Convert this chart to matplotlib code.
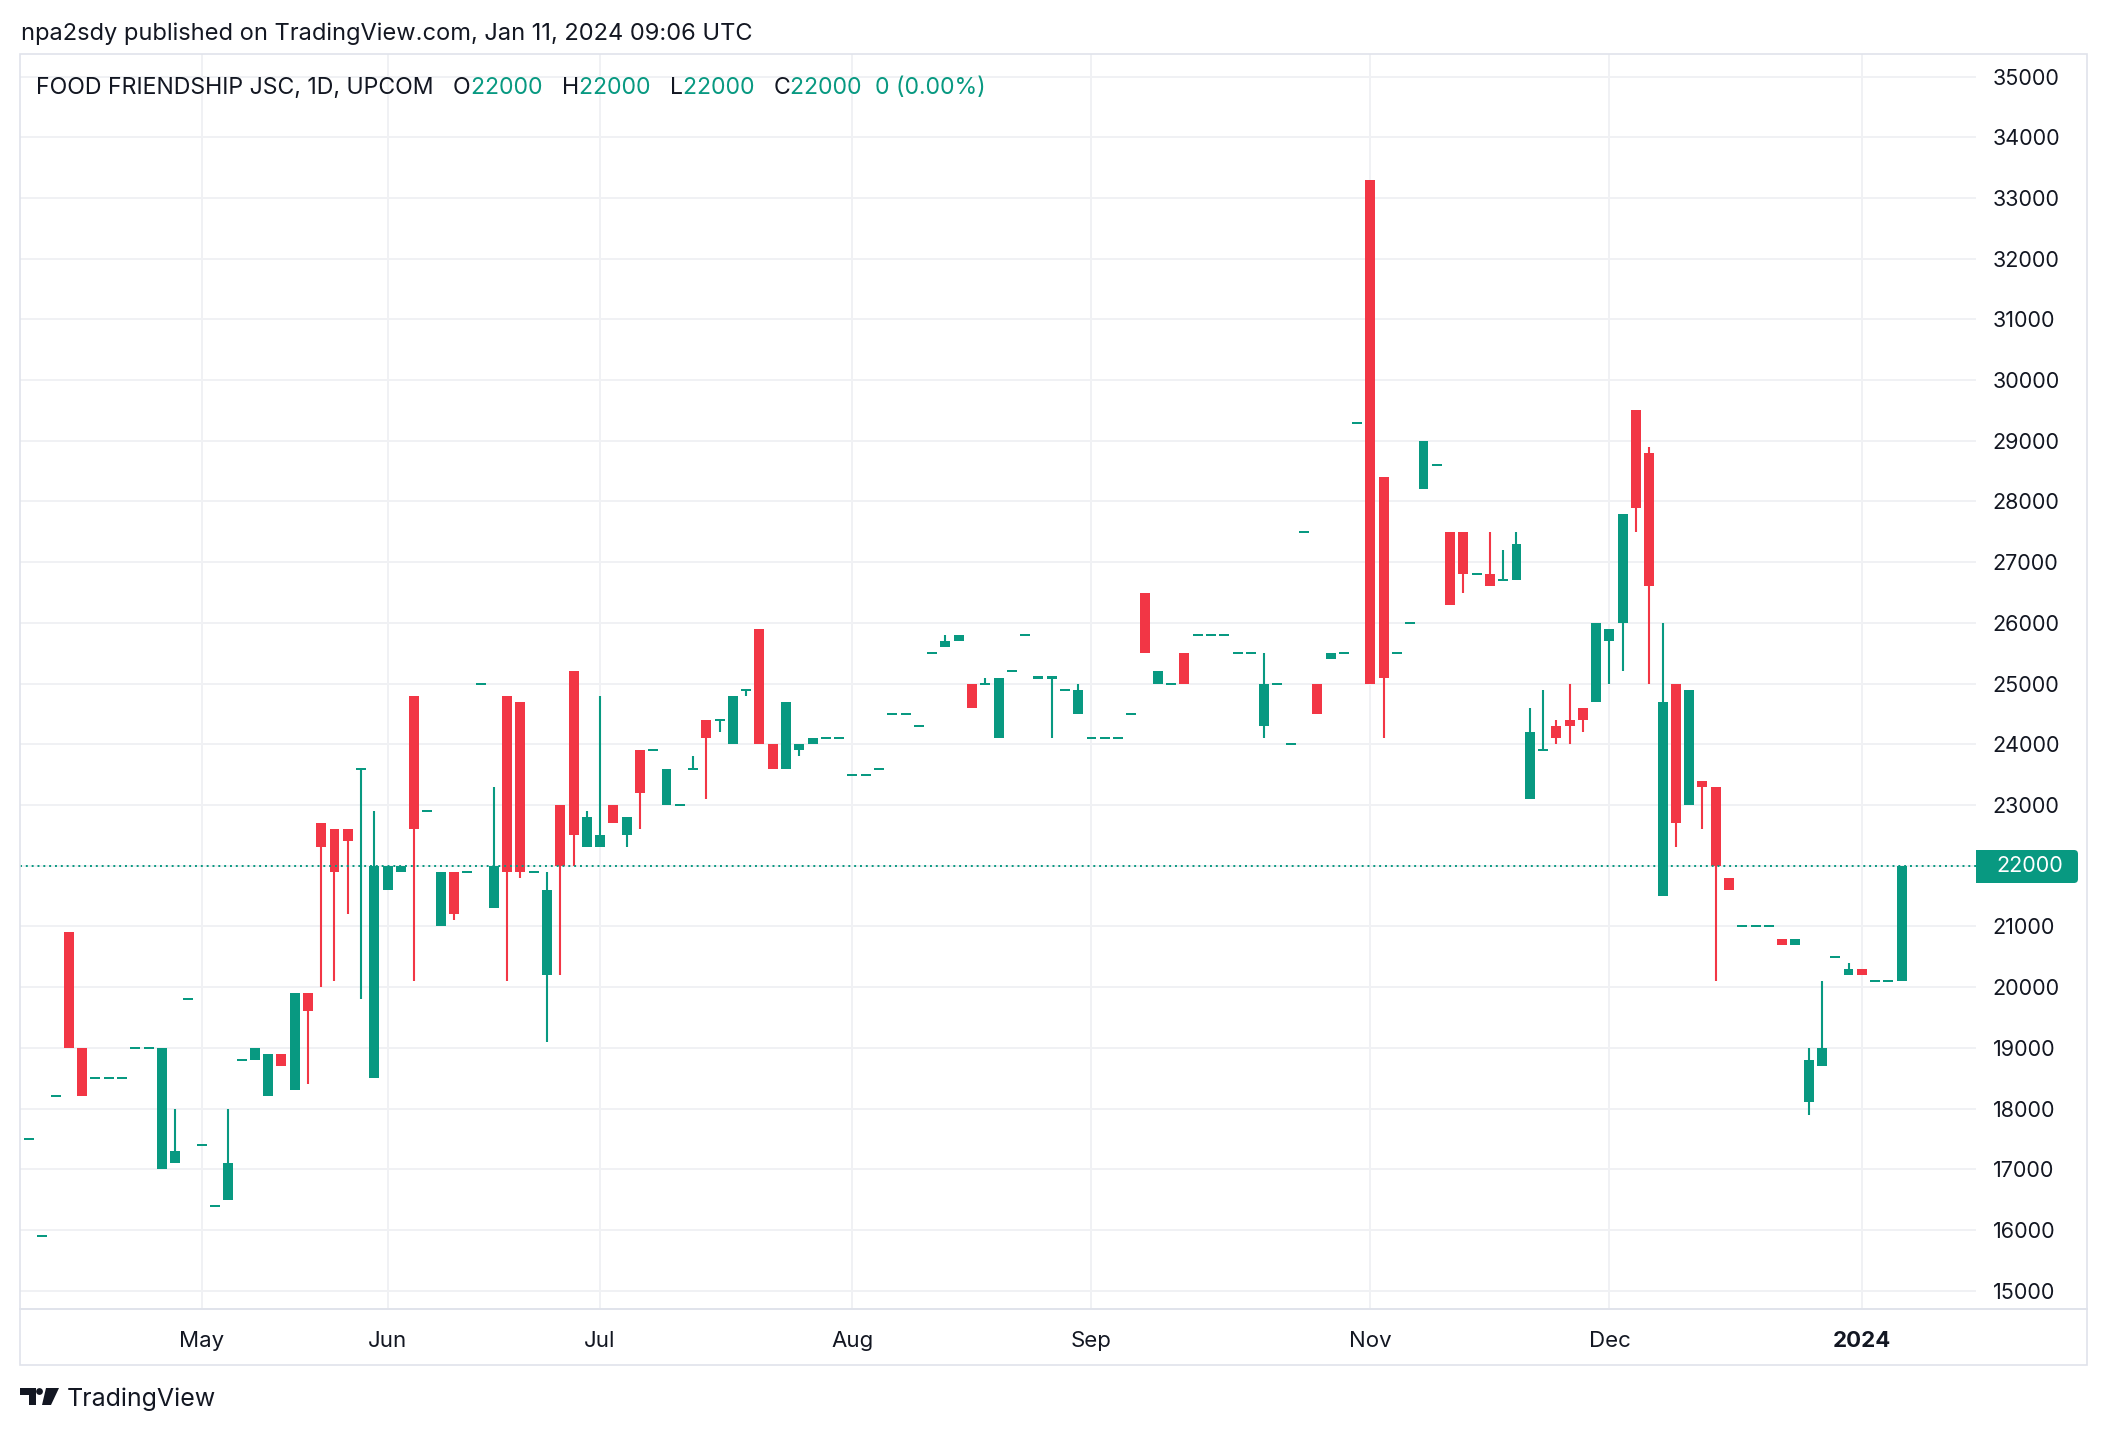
import matplotlib
matplotlib.use("Agg")
import matplotlib.pyplot as plt
from matplotlib.patches import Rectangle, Polygon, Circle, FancyBboxPatch

plt.rcParams['font.family'] = ['Inter', 'DejaVu Sans']

# daily bars (only days with trades), Apr 2023 .. Jan 11 2024
opens = [17500, 15900, 18200, 20900, 19000, 18500, 18500, 18500, 19000, 19000,
         17000, 17100, 19800, 17400, 16400, 16500, 18800, 18800, 18200, 18900,
         18300, 19900, 22700, 22600, 22600, 23600, 18500, 21600, 21900, 24800,
         22900, 21000, 21900, 21900, 25000, 21300, 24800, 24700, 21900, 20200,
         23000, 25200, 22300, 22300, 23000, 22500, 23900, 23900, 23000, 23000,
         23600, 24400, 24400, 24000, 24900, 25900, 24000, 23600, 23900, 24000,
         24100, 24100, 23500, 23500, 23600, 24500, 24500, 24300, 25500, 25600,
         25700, 25000, 25000, 24100, 25200, 25800, 25100, 25100, 24900, 24500,
         24100, 24100, 24100, 24500, 26500, 25000, 25000, 25500, 25800, 25800,
         25800, 25500, 25500, 24300, 25000, 24000, 27500, 25000, 25400, 25500,
         29300, 33300, 28400, 25500, 26000, 28200, 28600, 27500, 27500, 26800,
         26800, 26700, 26700, 23100, 23900, 24300, 24400, 24600, 24700, 25700,
         26000, 29500, 28800, 21500, 25000, 23000, 23400, 23300, 21800, 21000,
         21000, 21000, 20800, 20700, 18100, 18700, 20500, 20200, 20300, 20100,
         20100, 20100]
highs = [17500, 15900, 18200, 20900, 19000, 18500, 18500, 18500, 19000, 19000,
         19000, 18000, 19800, 17400, 16400, 18000, 18800, 19000, 18900, 18900,
         19900, 19900, 22700, 22600, 22600, 23600, 22900, 22000, 22000, 24800,
         22900, 21900, 21900, 21900, 25000, 23300, 24800, 24700, 21900, 21900,
         23000, 25200, 22900, 24800, 23000, 22800, 23900, 23900, 23600, 23000,
         23800, 24400, 24400, 24800, 24900, 25900, 24000, 24700, 24000, 24100,
         24100, 24100, 23500, 23500, 23600, 24500, 24500, 24300, 25500, 25800,
         25800, 25000, 25100, 25100, 25200, 25800, 25100, 25100, 24900, 25000,
         24100, 24100, 24100, 24500, 26500, 25200, 25000, 25500, 25800, 25800,
         25800, 25500, 25500, 25500, 25000, 24000, 27500, 25000, 25500, 25500,
         29300, 33300, 28400, 25500, 26000, 29000, 28600, 27500, 27500, 26800,
         27500, 27200, 27500, 24600, 24900, 24400, 25000, 24600, 26000, 25900,
         27800, 29500, 28900, 26000, 25000, 24900, 23400, 23300, 21800, 21000,
         21000, 21000, 20800, 20800, 19000, 20100, 20500, 20400, 20300, 20100,
         20100, 22000]
lows = [17500, 15900, 18200, 19000, 18200, 18500, 18500, 18500, 19000, 19000,
        17000, 17100, 19800, 17400, 16400, 16500, 18800, 18800, 18200, 18700,
        18300, 18400, 20000, 20100, 21200, 19800, 18500, 21600, 21900, 20100,
        22900, 21000, 21100, 21900, 25000, 21300, 20100, 21800, 21900, 19100,
        20200, 22000, 22300, 22300, 22700, 22300, 22600, 23900, 23000, 23000,
        23600, 23100, 24200, 24000, 24800, 24000, 23600, 23600, 23800, 24000,
        24100, 24100, 23500, 23500, 23600, 24500, 24500, 24300, 25500, 25600,
        25700, 24600, 25000, 24100, 25200, 25800, 25100, 24100, 24900, 24500,
        24100, 24100, 24100, 24500, 25500, 25000, 25000, 25000, 25800, 25800,
        25800, 25500, 25500, 24100, 25000, 24000, 27500, 24500, 25400, 25500,
        29300, 25000, 24100, 25500, 26000, 28200, 28600, 26300, 26500, 26800,
        26600, 26700, 26700, 23100, 23900, 24000, 24000, 24200, 24700, 25000,
        25200, 27500, 25000, 21500, 22300, 23000, 22600, 20100, 21600, 21000,
        21000, 21000, 20700, 20700, 17900, 18700, 20500, 20200, 20200, 20100,
        20100, 20100]
closes = [17500, 15900, 18200, 19000, 18200, 18500, 18500, 18500, 19000, 19000,
          19000, 17300, 19800, 17400, 16400, 17100, 18800, 19000, 18900, 18700,
          19900, 19600, 22300, 21900, 22400, 23600, 22000, 22000, 22000, 22600,
          22900, 21900, 21200, 21900, 25000, 22000, 21900, 21900, 21900, 21600,
          22000, 22500, 22800, 22500, 22700, 22800, 23200, 23900, 23600, 23000,
          23600, 24100, 24400, 24800, 24900, 24000, 23600, 24700, 24000, 24100,
          24100, 24100, 23500, 23500, 23600, 24500, 24500, 24300, 25500, 25700,
          25800, 24600, 25000, 25100, 25200, 25800, 25100, 25100, 24900, 24900,
          24100, 24100, 24100, 24500, 25500, 25200, 25000, 25000, 25800, 25800,
          25800, 25500, 25500, 25000, 25000, 24000, 27500, 24500, 25500, 25500,
          29300, 25000, 25100, 25500, 26000, 29000, 28600, 26300, 26800, 26800,
          26600, 26700, 27300, 24200, 23900, 24100, 24300, 24400, 26000, 25900,
          27800, 27900, 26600, 24700, 22700, 24900, 23300, 22000, 21600, 21000,
          21000, 21000, 20700, 20800, 18800, 19000, 20500, 20300, 20200, 20100,
          20100, 22000]

month_pos = [13, 27, 43, 62, 80, 101, 119, 138]
month_labels = ["May", "Jun", "Jul", "Aug", "Sep", "Nov", "Dec", "2024"]
price_ticks = list(range(15000, 35001, 1000))
last_price = 22000

UP = "#089981"
DOWN = "#F23645"
TXT = "#131722"
GRID = "#f0f1f4"

W, H = 2108, 1434
fig = plt.figure(figsize=(W / 100, H / 100), dpi=100)
fig.patch.set_facecolor("white")

# main chart area (pixel box: x 20..1976, y 54..1309)
ax = fig.add_axes([20 / W, 1 - 1309 / H, (1976 - 20) / W, (1309 - 54) / H])
ax.set_xlim(-0.68, 146.6)
ax.set_ylim(14697, 35372)

for p in price_ticks:
    ax.axhline(p, color=GRID, lw=1.4, zorder=0)
for m in month_pos:
    ax.axvline(m, color=GRID, lw=1.4, zorder=0)

mincolor_h = 34
for i in range(len(opens)):
    o, h, l, c = opens[i], highs[i], lows[i], closes[i]
    col = UP if c >= o else DOWN
    if h > l:
        ax.vlines(i, l, h, color=col, lw=1.5, zorder=2)
    bot = min(o, c)
    hgt = abs(c - o)
    if hgt < mincolor_h:
        bot = o - mincolor_h / 2
        hgt = mincolor_h
    ax.add_patch(Rectangle((i - 0.375, bot), 0.75, hgt, facecolor=col,
                           edgecolor="none", zorder=3))

ax.axhline(last_price, color=UP, lw=1.4, linestyle=(0, (1, 2)), zorder=4)

ax.set_xticks(month_pos)
ax.set_xticklabels(month_labels, fontsize=16, color=TXT)
ax.get_xticklabels()[-1].set_fontweight("bold")
ax.tick_params(axis="x", length=0, pad=16)
ax.yaxis.tick_right()
ax.set_yticks([p for p in price_ticks if p != last_price])
ax.set_yticklabels([str(p) for p in price_ticks if p != last_price],
                   fontsize=15.5, color=TXT)
ax.tick_params(axis="y", length=0, pad=12)
for s in ax.spines.values():
    s.set_visible(False)

# overlay for frame, header, logo and price label
ov = fig.add_axes([0, 0, 1, 1], zorder=5)
ov.set_xlim(0, W)
ov.set_ylim(H, 0)
ov.axis("off")
ov.patch.set_alpha(0)

FR = "#e0e3eb"
ov.add_patch(Rectangle((20, 54), 2087 - 20, 1365 - 54, fill=False,
                       edgecolor=FR, lw=1.2))
ov.plot([20, 2087], [1309, 1309], color=FR, lw=1.4)

ov.text(21, 34, "npa2sdy published on TradingView.com, Jan 11, 2024 09:06 UTC",
        fontsize=17, color=TXT, va="center", ha="left")

# legend line
parts = [("FOOD FRIENDSHIP JSC, 1D, UPCOM   ", TXT), ("O", TXT), ("22000   ", UP),
         ("H", TXT), ("22000   ", UP), ("L", TXT), ("22000   ", UP),
         ("C", TXT), ("22000  ", UP), ("0 (0.00%)", UP)]
xcur = 36
r = fig.canvas.get_renderer()
for s, c in parts:
    t = ov.text(xcur, 88, s, fontsize=16.6, color=c, va="center", ha="left")
    bb = t.get_window_extent(renderer=r)
    xcur += bb.width

# last price label
ov.add_patch(FancyBboxPatch((1976, 850), 102, 33,
                            boxstyle="round,pad=0,rounding_size=4",
                            facecolor=UP, edgecolor="none"))
ov.add_patch(Rectangle((1976, 850), 10, 33, facecolor=UP, edgecolor="none"))
ov.text(2030, 866.5, "22000", fontsize=15.5, color="white", ha="center",
        va="center")

# TradingView logo
LOGO = "#131722"
ov.add_patch(Polygon([(20, 1388), (36, 1388), (36, 1405), (28.5, 1405),
                      (28.5, 1395), (20, 1395)], closed=True, facecolor=LOGO,
                     edgecolor="none"))
ov.add_patch(Circle((39.5, 1391.5), 3.4, facecolor=LOGO, edgecolor="none"))
ov.add_patch(Polygon([(46, 1388), (59, 1388), (51, 1405), (42, 1405)],
                     closed=True, facecolor=LOGO, edgecolor="none"))
ov.text(67, 1399, "TradingView", fontsize=18, color=LOGO, va="center",
        ha="left")

fig.savefig("out.png", dpi=100)
